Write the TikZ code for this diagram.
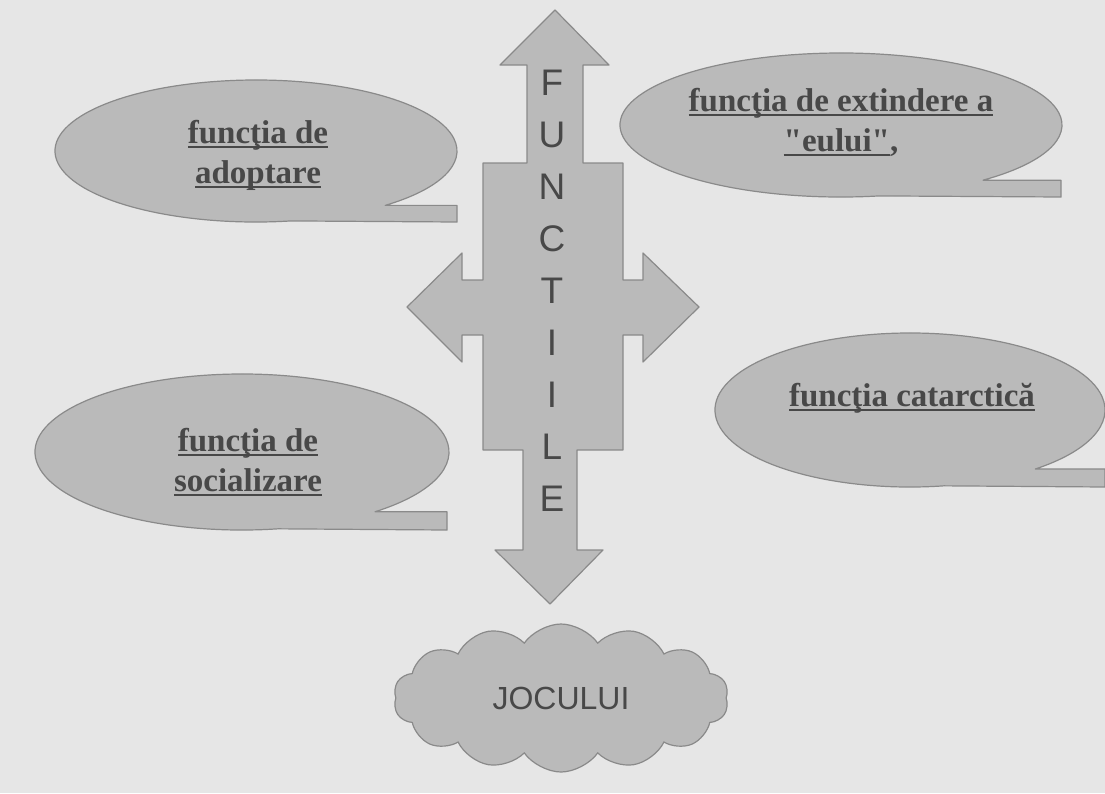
\documentclass[tikz,border=0pt]{standalone}
\usepackage{fontspec}
\setmainfont{Liberation Serif}
\setsansfont{Liberation Sans}
\usetikzlibrary{shapes.symbols}

\definecolor{paper}{RGB}{230,230,230}
\definecolor{shade}{RGB}{186,186,186}
\definecolor{rim}{RGB}{138,138,138}
\definecolor{ink}{RGB}{72,72,72}
\newcommand\undl[1]{\sbox0{#1}\rlap{\color{ink}\rule[-5pt]{\wd0}{2.4pt}}\usebox0}

\begin{document}
\begin{tikzpicture}[x=1pt, y=-1pt,
        callout/.style={fill=shade, draw=rim, line width=1.2pt, line join=round},
        ftext/.style={text=ink, font=\fontsize{33}{40}\selectfont\bfseries, align=center},
        letter/.style={text=ink, font=\sffamily\fontsize{37}{37}\selectfont},
        puff/.style={cloud, cloud puffs=14, cloud puff arc=110, aspect=2.2, fill=shade, draw=rim, line width=1.2pt,
            minimum width=335pt, minimum height=148pt, text=ink, font=\sffamily\fontsize{32}{32}\selectfont}]
        \useasboundingbox (0,0) rectangle (1105,793);
        \fill[paper] (0,0) rectangle (1105,793);
        % speech bubbles
        \foreach \cx/\cy/\rx/\ry/\tx in {256/151/201/71/457, 841/125/221/72/1061, 910/410/195/77/1105, 242/452/207/78/447}
            \draw[callout] ({\cx+\rx*cos(80)},{\cy+\ry*sin(80)}) arc[start angle=80, end angle=410, x radius=\rx, y radius=\ry]
                -- (\tx,{\cy+\ry*sin(50)}) -- (\tx,{\cy+\ry}) -- cycle;
        \node[ftext] (adopt) at (258,155) {\undl{funcţia de}\\\undl{adoptare}};
        \node[ftext] (extind) at (841,122) {\undl{funcţia de extindere a}\\\undl{\textquotedbl eului\textquotedbl},};
        \node[ftext] (catarct) at (912,398) {\undl{funcţia catarctică}};
        \node[ftext] (social) at (248,462) {\undl{funcţia de}\\\undl{socializare}};
        % cross of arrows
        \draw[callout] (555,10) -- (609,65) -- (583,65) -- (583,163) -- (623,163) -- (623,280) -- (643,280)
            -- (643,253) -- (699,307) -- (643,362) -- (643,335) -- (623,335) -- (623,450) -- (577,450)
            -- (577,550) -- (603,550) -- (550,604) -- (495,550) -- (523,550) -- (523,450) -- (483,450)
            -- (483,335) -- (462,335) -- (462,362) -- (407,307) -- (462,253) -- (462,280) -- (483,280)
            -- (483,163) -- (527,163) -- (527,65) -- (500,65) -- cycle;
        \foreach \ch [count=\i] in {F,U,N,C,T,I,I,L,E}
            \node[letter] (l\i) at (552,{31+52*\i}) {\ch};
        \node[puff] (jocul) at (561,698) {JOCULUI};
    \end{tikzpicture}
\end{document}
